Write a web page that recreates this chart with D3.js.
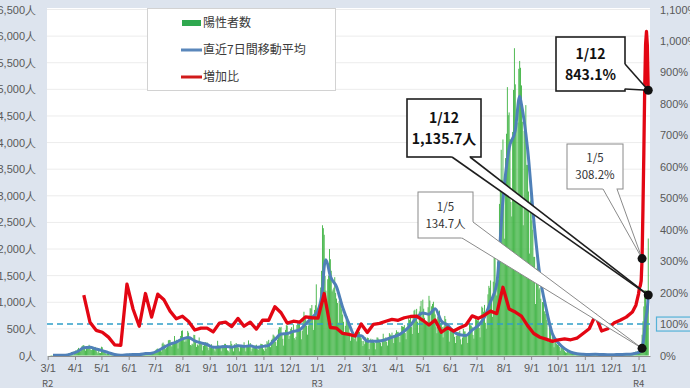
<!DOCTYPE html>
<html lang="ja">
<head>
<meta charset="UTF-8">
<title>陽性者数・直近7日間移動平均・増加比</title>
<script src="https://cdn.jsdelivr.net/npm/d3@7"></script>
<style>
    body { margin: 0; background: #dde4ee; }
    svg { display: block; font-family: "Noto Sans CJK JP", "Noto Sans", sans-serif; }
    .tick text { fill: #595959; font-size: 11px; }
</style>
</head>
<body>
<div id="fig"></div>
<script>
// daily positives, one row per week (Sun..Sat), from 2020-03-01
const startDay = "2020-03-01"
const dailyCases = [
    1,1,1,3,8,6,3, 0,4,2,7,2,2,6, 4,2,3,9,2,11,7, 3,16,17,41,47,40,63,
    68,13,78,66,97,89,116, 143,83,79,144,178,189,197, 166,91,161,127,149,201,181, 107,102,123,132,134,161,103,
    72,39,112,47,46,165,154, 91,87,58,38,23,39,36, 22,15,28,10,30,9,14, 5,10,5,5,11,3,2,
    14,8,10,11,15,22,14, 5,13,34,12,28,20,26, 14,13,12,18,22,25,24, 47,48,27,16,41,35,39,
    35,29,31,55,48,54,57, 60,58,54,67,107,124,131, 111,102,106,75,224,243,206, 206,119,143,165,286,293,290,
    188,168,237,238,366,260,295, 239,131,266,250,367,463,472, 292,258,309,263,360,462,429, 331,197,188,222,206,389,385,
    260,161,207,186,339,258,256, 212,95,182,236,250,226,247, 148,100,170,141,211,136,181, 116,77,170,149,276,187,146,
    146,80,163,191,172,220,218, 170,98,88,59,195,270,218, 169,78,212,194,235,196,207, 143,78,178,177,186,187,249,
    146,78,166,177,284,185,235, 78,132,139,150,185,186,203, 124,102,158,171,221,215,209, 116,87,209,122,269,242,294,
    189,157,293,317,393,374,352, 255,180,298,493,534,522,539, 391,314,186,401,481,570,561, 418,311,372,500,533,449,584,
    327,299,352,572,602,595,621, 480,305,460,678,822,664,736, 556,392,563,748,888,884,949, 708,481,856,944,1337,783,814,
    816,884,1278,1591,2447,2392,2268, 1494,1219,970,1433,1502,2001,1809, 1592,1204,1240,1274,1471,1175,1070, 986,618,1026,973,1064,868,769,
    633,393,556,676,734,577,639, 429,276,412,434,370,307,369, 371,266,378,445,445,353,327, 272,178,275,213,340,270,337,
    329,121,232,316,279,301,293, 237,116,290,340,335,304,293, 239,175,300,409,323,303,342, 256,187,337,420,394,376,430,
    313,234,364,414,475,440,446, 355,249,399,555,545,537,570, 421,306,510,591,729,667,759, 543,405,711,843,861,759,876,
    635,425,828,925,1027,698,1050, 879,708,609,621,591,907,1121, 1032,573,925,969,1010,854,772, 542,419,732,766,843,614,620,
    535,340,544,743,684,614,539, 476,260,471,487,508,472,436, 351,235,369,440,439,435,467, 304,209,337,501,452,453,388,
    376,236,435,619,570,562,534, 386,317,476,714,673,660,716, 518,342,593,920,896,822,950, 614,502,830,1149,1308,1271,1410,
    1008,727,1387,1832,1979,1359,1128, 1763,1429,2848,3177,3865,3300,4058, 3058,2195,3709,4166,5042,4515,4566, 4066,2884,2612,4200,4989,5773,5094,
    4295,2962,4377,5386,5534,5405,5074, 4392,2447,4220,4228,4704,3581,3581, 3081,1915,2909,3168,2539,2362,1853, 1853,968,1629,1834,1675,1242,1273,
    1067,611,1004,1052,831,782,862, 667,302,253,537,531,235,382, 362,154,248,267,218,200,195, 161,87,149,144,143,138,82,
    60,49,77,72,62,66,67, 40,29,36,41,36,26,32, 19,17,29,36,21,25,23, 22,9,18,25,29,20,24,
    24,16,19,24,25,19,24, 16,6,22,26,23,11,22, 9,8,14,11,19,21,18, 12,13,15,14,20,19,17,
    14,16,16,22,19,21,21, 21,12,27,13,23,26,27, 21,20,28,34,37,37,34, 21,48,53,76,58,78,79,
    84,103,151,390,641,922,1224, 1223,780,962,2198
]

// 7-day moving average, read every Saturday from 2020-03-07
const avgWeekStart = "2020-03-07"
const avgWeekly = [
    3.3, 3.3, 5.4, 32.4, 75.3, 144.7, 153.7, 123.1, 90.7, 53.1, 18.3, 5.9, 13.4, 19.7, 18.3, 36.1,
    44.1, 85.9, 152.4, 214.6, 250.3, 312.6, 339, 274, 238.1, 206.9, 155.3, 160.1, 170, 156.9, 184.4, 171.1,
    181.6, 153.3, 171.4, 191.3, 296.4, 403, 414.9, 452.4, 481.1, 592.1, 711.4, 846.1, 1668, 1489.7, 1289.4, 900.6,
    601.1, 371, 369.3, 269.3, 267.3, 273.6, 298.7, 342.9, 383.7, 458.6, 569, 714, 798.3, 776.6, 876.4, 648,
    571.3, 444.3, 390.9, 377.7, 476, 563.1, 720.1, 1012, 1345.7, 2920, 3893, 4231, 4719, 3879, 2547, 1496,
    887, 415, 235, 129, 64.7, 34.3, 24.3, 21, 21.6, 18, 14.3, 15.7, 18.4, 21.3, 30.1, 59
]
const avgExtraDates = ["2021-01-07", "2021-01-11", "2021-08-19",
    "2021-12-29", "2021-12-30", "2021-12-31", "2022-01-02", "2022-01-03", "2022-01-04", "2022-01-05",
    "2022-01-06", "2022-01-07", "2022-01-08", "2022-01-09", "2022-01-10", "2022-01-11", "2022-01-12"]
const avgExtraValues = [1230, 1800, 4870,
    43.7, 46.7, 52.6, 68, 75.9, 89.9, 134.7,
    218, 338.6, 502, 664.9, 761.6, 877.4, 1135.7]

// 増加比 (%), read every Saturday from 2020-04-11
const ratioWeekStart = "2020-04-11"
const ratioWeekly = [
    192, 106, 80, 74, 58.5, 34, 32, 227, 147, 93, 197, 122, 195, 177, 141, 117,
    125, 108, 81, 87, 87, 75, 103, 106, 92, 118, 93, 106, 84, 112, 112, 155,
    136, 103, 109, 106, 123, 120, 119, 197, 89, 87, 70, 67, 62, 100, 73, 99,
    102, 109, 115, 112, 120, 124, 125, 112, 97, 113, 74, 88, 78, 88, 97, 126,
    118, 128, 141, 133, 217, 148, 138, 125, 95, 70, 58, 52, 45, 50, 53, 50,
    55, 70, 85, 128, 78, 85, 103, 112, 122, 138
]
const ratioExtraDates = ["2021-12-29", "2022-01-01", "2022-01-02", "2022-01-03", "2022-01-04", "2022-01-05",
    "2022-01-06", "2022-01-07", "2022-01-08", "2022-01-09", "2022-01-10", "2022-01-11", "2022-01-12"]
const ratioExtraValues = [160, 196, 215, 222, 238, 308.2, 467, 644, 851, 990, 1030, 985, 843.1]

const leftTicks = [0, 500, 1000, 1500, 2000, 2500, 3000, 3500, 4000, 4500, 5000, 5500, 6000, 6500]
const rightTicks = [0, 100, 200, 300, 400, 500, 600, 700, 800, 900, 1000, 1100]
const eraDates = ["2020-03-01", "2021-01-01", "2022-01-01"]
const eraNames = ["R2", "R3", "R4"]
const legendNames = ["陽性者数", "直近7日間移動平均", "増加比"]

const calloutDates = ["2022-01-12", "2022-01-12", "2022-01-05", "2022-01-05"]
const calloutValues = [843.1, 1135.7, 308.2, 134.7]
const calloutAxis = ["right", "left", "right", "left"]
const calloutText = [["1/12", "843.1%"], ["1/12", "1,135.7人"], ["1/5", "308.2%"], ["1/5", "134.7人"]]

const W = 690, H = 388
const plot = {left: 47, right: 650, top: 8, bottom: 356}
const parse = d3.timeParse("%Y-%m-%d")
const day0 = parse(startDay)

const svg = d3.select("#fig").append("svg")
    .attr("width", W).attr("height", H)

svg.append("rect").attr("width", W).attr("height", H).attr("fill", "#dde4ee")
svg.append("rect")
    .attr("x", plot.left).attr("y", plot.top)
    .attr("width", plot.right - plot.left).attr("height", plot.bottom - plot.top)
    .attr("fill", "#ffffff")

const x = d3.scaleTime()
    .domain([day0, parse("2022-01-14")])
    .range([47.7, plot.right])
const yL = d3.scaleLinear().domain([0, 6500]).range([355.5, 9.5])
const yR = d3.scaleLinear().domain([0, 1100]).range([355.5, 9.5])

// grid
svg.append("g").selectAll("line")
    .data(leftTicks.slice(1))
    .join("line")
    .attr("x1", plot.left).attr("x2", plot.right)
    .attr("y1", d => yL(d)).attr("y2", d => yL(d))
    .attr("stroke", "#ececec")

// bars
const bw = 0.9
svg.append("g").selectAll("rect")
    .data(dailyCases)
    .join("rect")
    .attr("x", (d, i) => x(d3.timeDay.offset(day0, i)) - bw / 2)
    .attr("y", d => yL(d))
    .attr("width", bw)
    .attr("height", d => yL(0) - yL(d))
    .attr("fill", "#3fb343")

// 100% reference line
svg.append("line")
    .attr("x1", plot.left).attr("x2", plot.right)
    .attr("y1", yR(100)).attr("y2", yR(100))
    .attr("stroke", "#2f9fc7").attr("stroke-width", 1.6)
    .attr("stroke-dasharray", "6,4")

function series(weekStart, weekly, extraDates, extraValues) {
    const s = parse(weekStart)
    const pts = weekly.map((v, i) => ({date: d3.timeDay.offset(s, 7 * i), value: v}))
    extraDates.forEach((d, i) => pts.push({date: parse(d), value: extraValues[i]}))
    return pts.sort((a, b) => a.date - b.date)
}
const avgPts = series(avgWeekStart, avgWeekly, avgExtraDates, avgExtraValues)
const ratioPts = series(ratioWeekStart, ratioWeekly, ratioExtraDates, ratioExtraValues)

svg.append("path")
    .datum(avgPts)
    .attr("fill", "none")
    .attr("stroke", "#4f80b8").attr("stroke-width", 3)
    .attr("stroke-linejoin", "round")
    .attr("d", d3.line().x(d => x(d.date)).y(d => yL(d.value)).curve(d3.curveMonotoneX))

svg.append("path")
    .datum(ratioPts)
    .attr("fill", "none")
    .attr("stroke", "#e30613").attr("stroke-width", 3.3)
    .attr("stroke-linejoin", "round")
    .attr("d", d3.line().x(d => x(d.date)).y(d => yR(d.value)))

// axes
const xAxis = svg.append("g")
    .attr("transform", `translate(0,${plot.bottom})`)
    .call(d3.axisBottom(x)
        .tickValues(d3.timeMonth.range(day0, parse("2022-01-02")))
        .tickFormat(d3.timeFormat("%-m/%-d"))
        .tickSize(4).tickSizeOuter(0).tickPadding(4))
xAxis.select(".domain").attr("stroke", "#8c8c8c")
xAxis.selectAll(".tick line").attr("stroke", "#8c8c8c")

svg.append("g").selectAll("text")
    .data(eraNames)
    .join("text")
    .attr("x", (d, i) => x(parse(eraDates[i])))
    .attr("y", 386.5)
    .attr("text-anchor", "middle")
    .attr("fill", "#595959").attr("font-size", 9.5)
    .text(d => d)

const left = svg.append("g")
    .attr("transform", `translate(${plot.left},0)`)
    .call(d3.axisLeft(yL).tickValues(leftTicks)
        .tickFormat(d => d3.format(",")(d) + "人")
        .tickSize(0).tickPadding(11))
left.select(".domain").remove()

const right = svg.append("g")
    .attr("transform", `translate(${plot.right},0)`)
    .call(d3.axisRight(yR).tickValues(rightTicks)
        .tickFormat(d => d3.format(",")(d) + "%")
        .tickSize(0).tickPadding(10))
right.select(".domain").remove()

svg.append("rect")
    .attr("x", 656.5).attr("y", yR(100) - 7)
    .attr("width", 40).attr("height", 14)
    .attr("fill", "none").attr("stroke", "#56b2d8").attr("stroke-width", 1.2)

// legend
const lg = svg.append("g")
lg.append("rect")
    .attr("x", 147.5).attr("y", 8.5).attr("width", 188).attr("height", 82)
    .attr("fill", "#ffffff").attr("stroke", "#d2d2d2")
const legendY = [23, 50, 77]
lg.append("rect").attr("x", 182).attr("y", legendY[0] - 3).attr("width", 19).attr("height", 6).attr("fill", "#2fa84f")
lg.append("line").attr("x1", 181).attr("x2", 202).attr("y1", legendY[1]).attr("y2", legendY[1])
    .attr("stroke", "#5a87bb").attr("stroke-width", 3)
lg.append("line").attr("x1", 181).attr("x2", 202).attr("y1", legendY[2]).attr("y2", legendY[2])
    .attr("stroke", "#d11a1a").attr("stroke-width", 3)
lg.selectAll("text")
    .data(legendNames)
    .join("text")
    .attr("x", 203).attr("y", (d, i) => legendY[i])
    .attr("dy", "0.36em")
    .attr("font-size", 12).attr("fill", "#3a3a3a")
    .text(d => d)

// callouts
const boxes = [
    {x: 556, y: 37, w: 69, h: 54, p1: [625, 64], p2: [625, 89], strong: true},
    {x: 407, y: 99, w: 74, h: 58, p1: [452, 157], p2: [470, 157], strong: true},
    {x: 567, y: 144, w: 56, h: 45, p1: [603, 189], p2: [617, 189], strong: false},
    {x: 418, y: 192, w: 55, h: 46, p1: [462, 238], p2: [473, 222], strong: false}
]
const cg = svg.append("g")
boxes.forEach((b, i) => {
    const dx = x(parse(calloutDates[i]))
    const dy = calloutAxis[i] === "right" ? yR(calloutValues[i]) : yL(calloutValues[i])
    const stroke = b.strong ? "#1e1e1e" : "#8a8a8a"
    const sw = b.strong ? 1.6 : 1
    const cx = b.x + b.w / 2, cy = b.y + b.h / 2
    cg.append("rect")
        .attr("x", b.x).attr("y", b.y).attr("width", b.w).attr("height", b.h)
        .attr("fill", "#ffffff").attr("stroke", stroke).attr("stroke-width", sw)
    cg.append("polygon")
        .attr("points", [b.p1, [dx, dy], b.p2, [cx, cy]].map(p => p.join(",")).join(" "))
        .attr("fill", "#ffffff")
    ;[b.p1, b.p2].forEach(p => {
        cg.append("line")
            .attr("x1", p[0]).attr("y1", p[1]).attr("x2", dx).attr("y2", dy)
            .attr("stroke", stroke).attr("stroke-width", sw)
    })
    const fs = b.strong ? 14 : 11.5
    calloutText[i].forEach((t, j) => {
        cg.append("text")
            .attr("x", cx)
            .attr("y", cy + (j === 0 ? -1 : 1) * (b.strong ? 10.5 : 8.5))
            .attr("dy", "0.36em")
            .attr("text-anchor", "middle")
            .attr("font-size", fs)
            .attr("font-weight", b.strong ? "bold" : "normal")
            .attr("fill", b.strong ? "#111" : "#333")
            .text(t)
    })
    cg.append("circle").attr("cx", dx).attr("cy", dy).attr("r", 4.5).attr("fill", "#111")
})
</script>
</body>
</html>
